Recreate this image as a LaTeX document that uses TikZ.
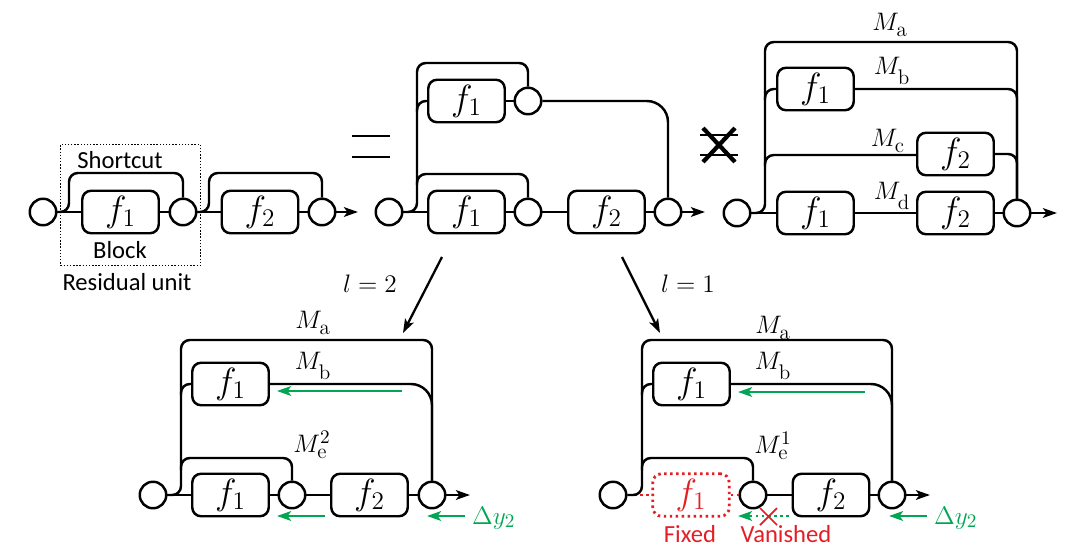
\documentclass[tikz,border=0pt]{standalone}
\usepackage[no-math]{fontspec}
\setmainfont{Carlito}
\usepackage{amsmath}
\usetikzlibrary{arrows.meta}
\definecolor{gradgreen}{RGB}{0,166,81}
\definecolor{fixred}{RGB}{228,30,36}
\newcommand{\Mlab}[2][]{$M_{\hbox{\fontsize{12}{12}\selectfont$\mathrm{#2}$}}^{#1}$}

\begin{document}
\begin{tikzpicture}[x=0.02cm, y=-0.02cm, >={Stealth[length=8pt,width=5.5pt,inset=2pt]},
  wire/.style={line width=1.4pt, rounded corners=5pt},
  sumnode/.style={draw, circle, line width=1.4pt, minimum size=0.53cm, inner sep=0pt},
  blk/.style={draw, rounded corners=5pt, line width=1.4pt, minimum width=1.53cm, minimum height=0.85cm, inner sep=0pt, font=\fontsize{20}{20}\selectfont},
  lbl/.style={font=\fontsize{15}{17}\selectfont},
  txt/.style={font=\fontsize{14}{16}\selectfont},
  grad/.style={->, gradgreen, line width=1.5pt}]
  \useasboundingbox (0,0) rectangle (1080,552);

  % Residual units on the left
  \node[sumnode] (a0) at (43,212) {};
  \node[blk] (af1) at (120.5,212) {$f_1$};
  \node[sumnode] (a1) at (183,212) {};
  \node[blk] (af2) at (260,212) {$f_2$};
  \node[sumnode] (a2) at (322,212) {};
  \coordinate (aout) at (358,212);
  \draw[wire] (a0) -- (af1) -- (a1) -- (af2) -- (a2);
  \draw[wire, ->] (a2) -- (aout);
  \draw[wire] (a0.east) -- (69,212) -- (69,173) -- (a1.north |- 0,173) -- (a1.north);
  \draw[wire] (a1.east) -- (209,212) -- (209,173) -- (a2.north |- 0,173) -- (a2.north);
  \node[draw, densely dotted, line width=0.8pt, minimum width=2.8cm, minimum height=2.42cm] (ru) at (130.5,205) {};
  \node[txt] (sc) at (120,160) {Shortcut};
  \node[txt] (bk) at (120,250) {Block};
  \node[txt] (rl) at (127,282) {Residual unit};

  % Gleich
  \draw[line width=1.5pt] (352,136) -- (390,136) (352,157) -- (390,157);

  % Unrolled view
  \node[sumnode] (mi) at (389,212) {};
  \node[blk] (mf1) at (466.5,212) {$f_1$};
  \node[sumnode] (ms1) at (528,212) {};
  \node[blk] (mf2) at (606.5,212) {$f_2$};
  \node[sumnode] (ms2) at (668,212) {};
  \coordinate (mout) at (705,212);
  \node[blk] (mtf) at (466.5,101) {$f_1$};
  \node[sumnode] (mts) at (528,101) {};
  \draw[wire] (mi) -- (mf1) -- (ms1) -- (mf2) -- (ms2);
  \draw[wire, ->] (ms2) -- (mout);
  \draw[wire] (mi.east) -- (417,212) -- (417,63) -- (mts.north |- 0,63) -- (mts.north);
  \draw[wire] (417,185) -- (417,174) -- (ms1.north |- 0,174) -- (ms1.north);
  \draw[wire] (417,112) -- (417,101) -- (mtf.west);
  \draw[wire] (mtf) -- (mts);
  \draw[wire, rounded corners=12pt] (mts.east) -- (ms2.north |- mts.east) -- (ms2.north);

  % Ungleich
  \draw[line width=1.5pt] (700,135) -- (738,135) (700,155) -- (738,155);
  \draw[line width=2.4pt] (703,128) -- (735,162) (703,162) -- (735,128);

  % Pfade a bis d
  \node[sumnode] (ri) at (737,213) {};
  \node[blk] (rf1) at (815.5,213) {$f_1$};
  \node[blk] (rf2) at (955.5,213) {$f_2$};
  \node[sumnode] (ro) at (1017,213) {};
  \coordinate (rout) at (1057,213);
  \node[blk] (rbf) at (815.5,89) {$f_1$};
  \node[blk] (rcf) at (955.5,154) {$f_2$};
  \draw[wire] (ri) -- (rf1) -- (rf2) -- (ro);
  \draw[wire, ->] (ro) -- (rout);
  \draw[wire] (ri.east) -- (765,213) -- (765,42) -- (ro.north |- 0,42) -- (ro.north);
  \draw[wire] (765,100) -- (765,89) -- (rbf.west);
  \draw[wire] (rbf.east) -- (ro.north |- rbf.east) -- (ro.north);
  \draw[wire] (765,166) -- (765,155) -- (rcf.west |- 0,155);
  \draw[wire] (rcf.east) -- (ro.north |- rcf.east) -- (ro.north);
  \node[lbl] (rma) at (890,25) {\Mlab{a}};
  \node[lbl] (rmb) at (892,71) {\Mlab{b}};
  \node[lbl] (rmc) at (888,141) {\Mlab{c}};
  \node[lbl] (rmd) at (892,196) {\Mlab{d}};

  % Pfeile nach unten
  \coordinate (l2s) at (442,257);
  \coordinate (l2e) at (403,333);
  \coordinate (l1s) at (622,257);
  \coordinate (l1e) at (660,333);
  \draw[->, line width=1.3pt] (l2s) -- (l2e);
  \draw[->, line width=1.3pt] (l1s) -- (l1e);
  \node[lbl] (l2) at (370,284) {$l = 2$};
  \node[lbl] (l1) at (688,284) {$l = 1$};

  % l = 2
  \node[sumnode] (li) at (153,495) {};
  \node[blk] (lf1) at (230.5,495) {$f_1$};
  \node[sumnode] (ls1) at (292,495) {};
  \node[blk] (lf2) at (369.5,495) {$f_2$};
  \node[sumnode] (ls2) at (432,495) {};
  \coordinate (lout) at (470,495);
  \node[blk] (ltf) at (230.5,384) {$f_1$};
  \draw[wire] (li) -- (lf1) -- (ls1) -- (lf2) -- (ls2);
  \draw[wire, ->] (ls2) -- (lout);
  \draw[wire] (li.east) -- (181,495) -- (181,340) -- (ls2.north |- 0,340) -- (ls2.north);
  \draw[wire] (181,470) -- (181,458) -- (ls1.north |- 0,458) -- (ls1.north);
  \draw[wire] (181,395) -- (181,384) -- (ltf.west);
  \draw[wire, rounded corners=12pt] (ltf.east) -- (ls2.north |- ltf.east) -- (ls2.north);
  \node[lbl] (lma) at (313,323) {\Mlab{a}};
  \node[lbl] (lmb) at (313,366) {\Mlab{b}};
  \node[lbl] (lme) at (312,445) {\Mlab[2]{e}};
  \coordinate (lg1) at (402,391);
  \coordinate (lg2) at (325,516);
  \coordinate (lg3) at (465,516);
  \draw[grad] (lg1) -- (277,391);
  \draw[grad] (lg2) -- (277,516);
  \draw[grad] (lg3) -- (427,516);
  \node[lbl, text=gradgreen, anchor=west] (ldy) at (466,518) {$\Delta y_2$};

  % l = 1
  \node[sumnode] (bi) at (613,495) {};
  \node[blk, draw=fixred, dotted, line width=1.6pt, text=fixred] (bf1) at (691,495) {$f_1$};
  \node[sumnode] (bs1) at (753,495) {};
  \node[blk] (bf2) at (831,495) {$f_2$};
  \node[sumnode] (bs2) at (892,495) {};
  \coordinate (bout) at (930,495);
  \node[blk] (btf) at (691.5,384) {$f_1$};
  \draw[fixred, dotted, line width=1.6pt] (bi) -- (bf1) -- (bs1);
  \draw[wire] (bs1) -- (bf2) -- (bs2);
  \draw[wire, ->] (bs2) -- (bout);
  \draw[wire] (bi.east) -- (642,495) -- (642,340) -- (bs2.north |- 0,340) -- (bs2.north);
  \draw[wire] (642,470) -- (642,458) -- (bs1.north |- 0,458) -- (bs1.north);
  \draw[wire] (642,395) -- (642,384) -- (btf.west);
  \draw[wire, rounded corners=12pt] (btf.east) -- (bs2.north |- btf.east) -- (bs2.north);
  \node[lbl] (bma) at (773,328) {\Mlab{a}};
  \node[lbl] (bmb) at (773,366) {\Mlab{b}};
  \node[lbl] (bme) at (773,446) {\Mlab[1]{e}};
  \coordinate (bg1) at (865,392);
  \coordinate (bg2) at (789,516);
  \coordinate (bg3) at (927,516);
  \draw[grad] (bg1) -- (738,392);
  \draw[grad, dotted] (bg2) -- (738,516);
  \draw[grad] (bg3) -- (889,516);
  \node[lbl, text=gradgreen, anchor=west] (bdy) at (928,518) {$\Delta y_2$};
  \draw[fixred, line width=1pt] (760,508) -- (777,525) (760,525) -- (777,508);
  \node[txt, text=fixred] (fx) at (690,534) {Fixed};
  \node[txt, text=fixred] (vn) at (786,534) {Vanished};
\end{tikzpicture}
\end{document}
